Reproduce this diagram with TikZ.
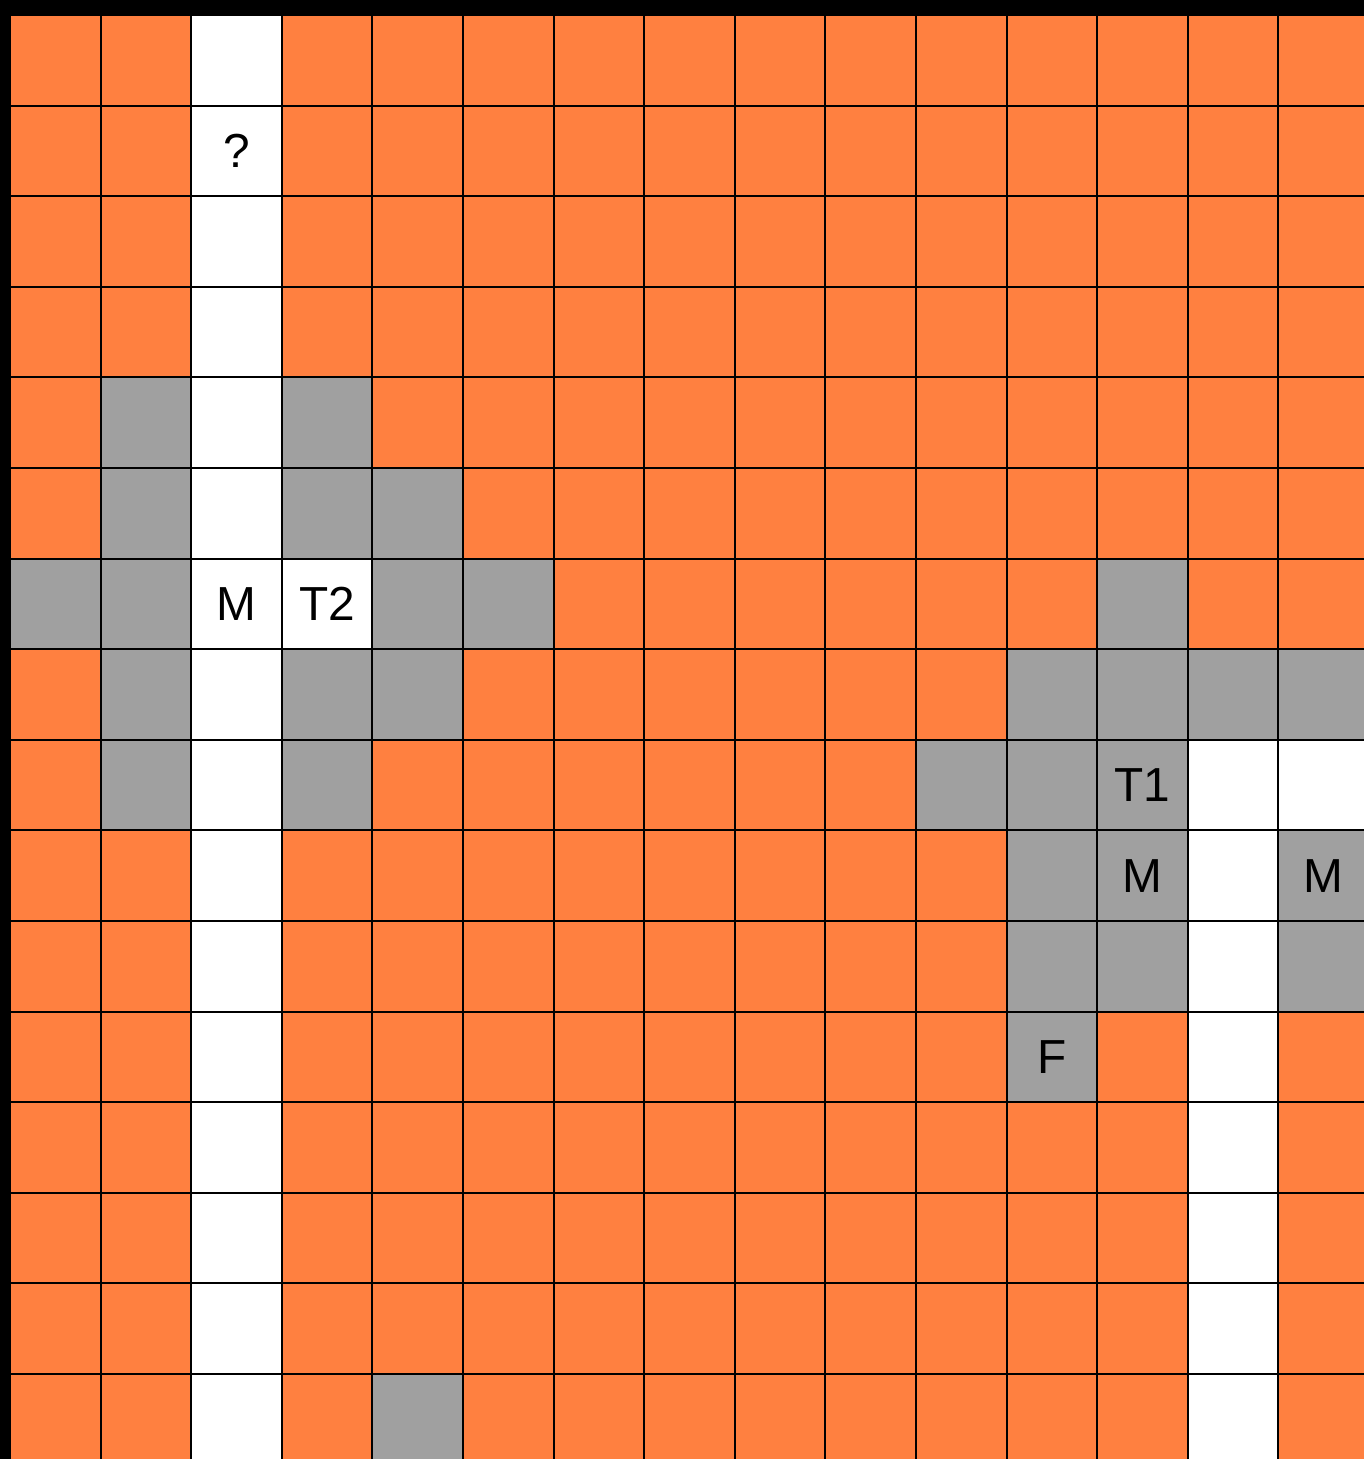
\documentclass[tikz,border=0pt]{standalone}
\usepackage{fontspec}
\setmainfont{Liberation Sans}
\usetikzlibrary{positioning}

\definecolor{wallorange}{RGB}{255,128,64}
\definecolor{seengray}{RGB}{160,160,160}

\begin{document}
\begin{tikzpicture}[
        x=1cm, y=-1cm,
        every node/.style={font=\fontsize{15}{18}\selectfont},
        wallcell/.style={fill=wallorange},
        freecell/.style={fill=white},
        seencell/.style={fill=seengray},
        gridline/.style={draw=black, line width=0.6pt},
      ]

      \useasboundingbox (-0.110,-0.166) rectangle (14.945,15.938);
      \fill[black] (-0.110,-0.166) rectangle (14.945,15.938);
      \clip (-0.110,-0.166) rectangle (14.945,15.938);

      % background of walls
      \fill[wallcell] (0,0) rectangle (15,16);

      % free path
      \foreach \r in {0,...,15}
        \fill[freecell] (2,\r) rectangle +(1,1);
      \foreach \r in {8,...,15}
        \fill[freecell] (13,\r) rectangle +(1,1);
      \fill[freecell] (3,6) rectangle +(1,1);
      \fill[freecell] (14,8) rectangle +(1,1);

      % explored cells
      \foreach \c/\r in {1/4, 3/4, 1/5, 3/5, 4/5, 0/6, 1/6, 4/6, 5/6, 12/6,
          1/7, 3/7, 4/7, 11/7, 12/7, 13/7, 14/7, 1/8, 3/8, 10/8, 11/8, 12/8,
          11/9, 12/9, 14/9, 11/10, 12/10, 14/10, 11/11, 4/15}
        \fill[seencell] (\c,\r) rectangle +(1,1);

      \draw[gridline] (0,0) grid (15,16);

      % labels
      \node (start) at (2.5,1.5) {?};
      \node (m2) at (2.5,6.5) {M};
      \node (t2) at (3.5,6.5) {T2};
      \node (t1) at (12.5,8.5) {T1};
      \node (m1) at (12.5,9.5) {M};
      \node (m3) at (14.5,9.5) {M};
      \node (f) at (11.5,11.5) {F};

    \end{tikzpicture}
\end{document}
